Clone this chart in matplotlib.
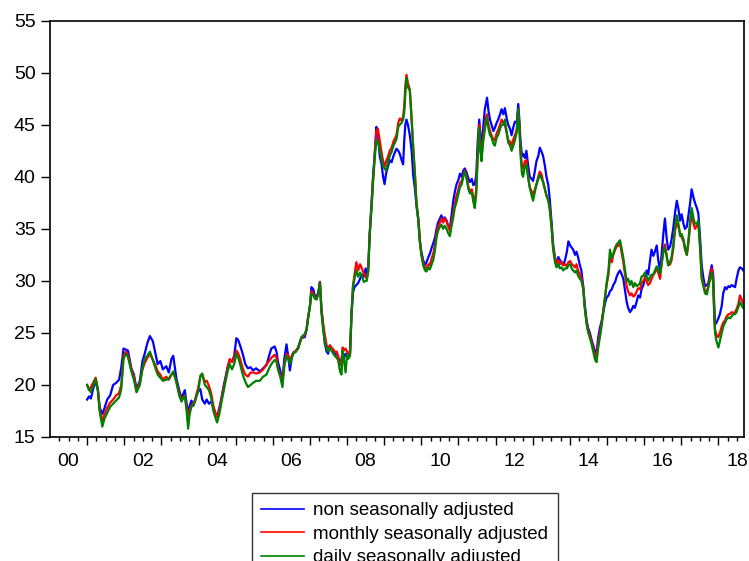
import matplotlib
matplotlib.use("Agg")
import matplotlib.pyplot as plt
import numpy as np

plt.rcParams['font.family'] = ['Liberation Sans', 'DejaVu Sans']

# decimal-year dates of the readings
dates = [
    2001.00, 2001.05, 2001.10, 2001.16, 2001.23, 2001.29, 2001.34, 2001.41, 2001.47, 2001.54,
    2001.62, 2001.70, 2001.78, 2001.86, 2001.92, 2001.98, 2002.04, 2002.10, 2002.19, 2002.26,
    2002.33, 2002.42, 2002.49, 2002.55, 2002.62, 2002.69, 2002.77, 2002.84, 2002.90, 2002.97,
    2003.04, 2003.13, 2003.20, 2003.27, 2003.32, 2003.40, 2003.48, 2003.54, 2003.63, 2003.68,
    2003.72, 2003.76, 2003.81, 2003.86, 2003.90, 2003.95, 2003.99, 2004.05, 2004.10, 2004.17,
    2004.22, 2004.28, 2004.34, 2004.40, 2004.46, 2004.50, 2004.56, 2004.61, 2004.67, 2004.73,
    2004.79, 2004.84, 2004.90, 2004.96, 2005.02, 2005.07, 2005.12, 2005.19, 2005.26, 2005.33,
    2005.40, 2005.47, 2005.55, 2005.65, 2005.74, 2005.83, 2005.90, 2005.96, 2006.05, 2006.10,
    2006.14, 2006.20, 2006.26, 2006.31, 2006.37, 2006.42, 2006.46, 2006.51, 2006.55, 2006.62,
    2006.68, 2006.77, 2006.86, 2006.91, 2006.95, 2007.00, 2007.04, 2007.09, 2007.13, 2007.18,
    2007.23, 2007.27, 2007.31, 2007.36, 2007.40, 2007.45, 2007.49, 2007.54, 2007.58, 2007.63,
    2007.67, 2007.72, 2007.76, 2007.81, 2007.85, 2007.88, 2007.91, 2007.96, 2008.00, 2008.03,
    2008.08, 2008.12, 2008.16, 2008.20, 2008.25, 2008.30, 2008.35, 2008.40, 2008.45, 2008.50,
    2008.53, 2008.57, 2008.61, 2008.66, 2008.70, 2008.75, 2008.79, 2008.83, 2008.88, 2008.93,
    2008.97, 2009.01, 2009.05, 2009.10, 2009.15, 2009.20, 2009.25, 2009.33, 2009.38, 2009.42,
    2009.47, 2009.51, 2009.54, 2009.57, 2009.60, 2009.64, 2009.69, 2009.74, 2009.78, 2009.83,
    2009.87, 2009.92, 2009.96, 2010.00, 2010.05, 2010.10, 2010.14, 2010.19, 2010.23, 2010.28,
    2010.32, 2010.37, 2010.41, 2010.45, 2010.50, 2010.54, 2010.59, 2010.63, 2010.68, 2010.72,
    2010.77, 2010.81, 2010.86, 2010.90, 2010.95, 2011.00, 2011.04, 2011.09, 2011.13, 2011.17,
    2011.22, 2011.27, 2011.31, 2011.36, 2011.40, 2011.44, 2011.48, 2011.52, 2011.56, 2011.59,
    2011.62, 2011.66, 2011.71, 2011.75, 2011.77, 2011.81, 2011.85, 2011.89, 2011.94, 2011.98,
    2012.03, 2012.07, 2012.12, 2012.16, 2012.21, 2012.25, 2012.30, 2012.34, 2012.39, 2012.43,
    2012.48, 2012.52, 2012.57, 2012.61, 2012.64, 2012.67, 2012.71, 2012.74, 2012.79, 2012.83,
    2012.88, 2012.92, 2012.97, 2013.01, 2013.06, 2013.10, 2013.15, 2013.19, 2013.24, 2013.28,
    2013.33, 2013.37, 2013.42, 2013.46, 2013.51, 2013.55, 2013.60, 2013.64, 2013.69, 2013.73,
    2013.78, 2013.82, 2013.87, 2013.92, 2013.96, 2014.01, 2014.05, 2014.09, 2014.14, 2014.18,
    2014.22, 2014.27, 2014.31, 2014.36, 2014.40, 2014.45, 2014.49, 2014.54, 2014.58, 2014.63,
    2014.68, 2014.72, 2014.76, 2014.81, 2014.86, 2014.90, 2014.95, 2014.99, 2015.04, 2015.08,
    2015.13, 2015.17, 2015.22, 2015.26, 2015.31, 2015.35, 2015.40, 2015.44, 2015.49, 2015.53,
    2015.57, 2015.62, 2015.66, 2015.71, 2015.75, 2015.80, 2015.84, 2015.89, 2015.93, 2015.98,
    2016.02, 2016.07, 2016.11, 2016.16, 2016.20, 2016.25, 2016.29, 2016.34, 2016.38, 2016.43,
    2016.47, 2016.52, 2016.56, 2016.61, 2016.65, 2016.70, 2016.74, 2016.79, 2016.83, 2016.88,
    2016.92, 2016.97, 2017.01, 2017.06, 2017.10, 2017.15, 2017.19, 2017.24, 2017.28, 2017.33,
    2017.37, 2017.42, 2017.46, 2017.51, 2017.55, 2017.60, 2017.64, 2017.69, 2017.73, 2017.78,
    2017.82, 2017.86, 2017.89, 2017.91, 2017.95, 2018.00, 2018.04, 2018.09, 2018.13, 2018.18,
    2018.22, 2018.27, 2018.31, 2018.36, 2018.40, 2018.45, 2018.49, 2018.54, 2018.58, 2018.63,
    2018.67,
]

non_sa = [
    18.6, 18.9, 18.7, 19.6, 20.4, 19.5, 17.8, 17.2, 17.8, 18.6,
    19.0, 20.0, 20.2, 20.5, 21.7, 23.5, 23.4, 23.3, 21.6, 21.0,
    19.6, 20.4, 22.3, 23.0, 24.0, 24.7, 24.2, 23.0, 22.0, 22.3,
    21.5, 21.8, 21.2, 22.5, 22.8, 20.7, 19.5, 18.7, 19.5, 18.2,
    17.0, 18.0, 18.5, 18.0, 18.4, 19.0, 19.4, 19.6, 18.6, 18.2,
    18.6, 18.2, 18.4, 17.8, 17.2, 17.0, 17.8, 18.6, 19.8, 20.8,
    21.8, 22.4, 22.2, 22.8, 24.5, 24.3, 23.8, 23.0, 22.0, 21.6,
    21.7, 21.4, 21.6, 21.3, 21.6, 21.9, 22.8, 23.5, 23.7, 23.2,
    22.2, 21.4, 20.5, 22.5, 23.9, 22.6, 21.4, 22.6, 23.1, 23.2,
    23.6, 24.5, 24.6, 25.3, 26.4, 27.6, 29.4, 29.2, 28.6, 28.4,
    29.0, 29.9, 27.2, 25.5, 24.0, 23.2, 23.0, 23.8, 23.5, 23.2,
    22.9, 23.1, 22.6, 22.3, 22.4, 23.3, 22.5, 23.0, 22.9, 22.6,
    23.0, 26.8, 28.9, 29.4, 29.6, 29.8, 30.2, 30.6, 30.4, 31.2,
    30.5, 31.3, 34.5, 37.5, 40.0, 42.5, 44.8, 44.2, 42.0, 41.2,
    40.0, 39.3, 40.3, 41.0, 41.6, 41.4, 42.0, 42.7, 42.5, 42.2,
    41.6, 41.2, 43.5, 45.0, 45.5, 45.0, 44.0, 42.5, 40.2, 38.8,
    37.2, 35.8, 33.8, 32.8, 32.0, 31.5, 31.8, 32.3, 32.6, 33.2,
    33.6, 34.2, 35.0, 35.6, 36.0, 36.3, 35.8, 36.1, 35.8, 35.3,
    35.1, 36.2, 37.7, 38.5, 39.3, 39.7, 40.3, 40.0, 40.6, 40.8,
    40.4, 39.8, 39.5, 39.8, 39.2, 39.3, 40.2, 43.5, 45.5, 44.0,
    42.6, 44.5, 46.5, 47.2, 47.6, 46.3, 45.5, 45.0, 44.4, 44.7,
    45.2, 45.5, 46.0, 46.5, 46.0, 46.6, 45.6, 45.0, 44.6, 44.0,
    44.8, 45.3, 45.2, 47.0, 45.5, 43.5, 42.0, 42.2, 41.8, 42.5,
    41.0, 40.0, 39.8, 39.6, 40.6, 41.5, 42.0, 42.8, 42.4, 42.0,
    41.0, 40.0, 39.2, 37.8, 35.5, 33.5, 32.2, 31.7, 32.3, 32.0,
    31.8, 31.5, 32.0, 32.8, 33.8, 33.4, 33.2, 33.0, 32.5, 32.8,
    32.3, 31.5, 31.0, 29.5, 27.8, 26.2, 25.5, 25.0, 24.4, 23.8,
    23.2, 23.0, 24.5, 25.5, 26.2, 27.0, 27.9, 28.4, 28.6, 29.0,
    29.2, 29.6, 29.9, 30.4, 30.8, 31.0, 30.6, 30.2, 29.0, 28.0,
    27.4, 27.0, 27.2, 27.6, 27.4, 28.0, 28.6, 28.4, 29.2, 29.6,
    30.2, 31.0, 30.6, 32.0, 33.0, 32.4, 32.8, 33.4, 32.0, 31.0,
    32.5, 34.6, 36.0, 34.0, 33.0, 33.3, 34.0, 35.2, 36.5, 37.7,
    37.0, 35.8, 36.4, 35.5, 35.0, 35.2, 36.2, 37.5, 38.8, 38.0,
    37.5, 37.0, 36.5, 34.0, 31.5, 30.2, 29.5, 29.6, 29.8, 30.8,
    31.5, 30.6, 27.5, 25.8, 26.0, 26.4, 26.8, 27.6, 28.8, 29.4,
    29.2, 29.5, 29.4, 29.6, 29.5, 29.4, 30.2, 31.0, 31.3, 31.2,
    31.0,
]

monthly_sa = [
    20.0, 19.5, 19.8, 20.2, 20.7, 19.6, 17.6, 16.5, 17.2, 17.8,
    18.3, 18.6, 19.0, 19.2, 20.0, 22.8, 23.2, 22.9, 21.5, 20.8,
    19.4, 20.2, 21.5, 22.1, 22.6, 23.0, 22.4, 21.9, 21.3, 21.0,
    20.5, 20.8, 20.5, 21.0, 21.2, 20.4, 19.2, 18.6, 19.0, 17.8,
    16.4, 17.6, 18.0, 18.3, 18.5, 19.2, 19.7, 20.8, 21.0, 20.3,
    20.4, 19.9, 19.2, 18.0, 17.2, 16.9, 17.6, 18.5, 19.6, 20.6,
    21.8, 22.5, 22.2, 22.6, 23.3, 23.0, 22.5, 21.6, 21.0, 20.8,
    21.2, 21.2, 21.1, 21.2, 21.5, 22.0, 22.3, 22.6, 22.9, 22.6,
    21.6, 21.0, 20.4, 22.0, 23.0, 22.8, 22.4, 22.8, 23.1, 23.3,
    23.5, 24.5, 24.8, 25.4, 26.5, 27.5, 29.0, 28.8, 28.4, 28.3,
    28.9, 29.9, 27.4, 25.8, 24.8, 23.8, 23.6, 23.8, 23.6, 23.4,
    23.2, 23.2, 22.8, 22.0, 21.9, 23.6, 23.3, 23.5, 23.2, 23.0,
    23.3, 26.9, 29.5, 30.6, 31.8, 31.0, 31.6, 31.2, 30.7, 30.5,
    30.2, 31.0, 34.6, 37.3, 39.8, 42.3, 44.4, 44.6, 43.5, 42.3,
    41.5, 41.0, 41.5, 41.9, 42.5, 42.8, 43.4, 44.0, 45.2, 45.6,
    45.4, 45.8, 46.8, 48.8, 49.8, 49.0, 48.4, 45.5, 43.0, 40.2,
    37.5, 36.0, 34.0, 32.6, 31.8, 31.2, 31.2, 31.6, 31.5, 32.2,
    32.6, 33.5, 34.5, 35.2, 35.6, 36.0, 35.6, 36.0, 35.7, 35.3,
    34.8, 35.6, 36.6, 37.4, 38.2, 38.8, 39.4, 39.6, 40.2, 40.6,
    40.0, 39.0, 38.6, 38.8, 38.0, 37.6, 38.8, 42.5, 45.0, 43.0,
    41.8, 43.6, 45.0, 45.8, 46.0, 45.0, 44.4, 44.0, 43.6, 43.5,
    44.2, 44.5, 45.0, 45.5, 45.2, 45.0, 44.2, 43.5, 43.4, 43.0,
    43.6, 44.0, 44.5, 46.5, 45.0, 42.8, 41.0, 40.8, 41.5, 41.6,
    40.0, 39.0, 38.6, 38.3, 38.8, 39.3, 40.0, 40.5, 40.2, 39.5,
    38.8, 38.2, 37.8, 37.0, 35.2, 33.2, 32.2, 31.6, 32.0, 31.6,
    31.8, 31.5, 31.6, 31.4, 31.8, 31.9, 31.6, 31.5, 31.3, 31.6,
    31.0, 30.6, 30.3, 29.4, 27.5, 26.0, 25.3, 24.8, 24.2, 23.5,
    22.8, 22.6, 24.0, 25.0, 26.0, 27.2, 28.5, 29.6, 30.6, 32.2,
    31.8, 32.5, 33.0, 33.3, 33.4, 33.6, 32.6, 31.8, 30.5, 29.5,
    29.0, 28.6, 28.8, 28.5, 28.6, 29.0, 29.3, 29.2, 29.8, 30.0,
    30.3, 29.9, 29.6, 29.8, 30.2, 30.6, 30.8, 31.2, 30.8, 30.2,
    31.6, 33.0, 33.5, 32.4, 31.5, 31.6, 32.0, 33.2, 34.8, 35.5,
    35.3, 34.5, 34.2, 33.8, 33.0, 32.5, 33.5, 35.3, 36.5, 35.5,
    35.0, 35.3, 35.5, 33.2, 30.5, 29.6, 29.0, 29.0, 29.5, 30.5,
    31.2, 30.2, 26.8, 25.3, 24.8, 24.6, 25.0, 25.6, 26.0, 26.2,
    26.6, 26.8, 26.8, 27.0, 26.9, 27.0, 27.3, 27.8, 28.6, 28.2,
    27.8,
]

daily_sa = [
    20.0, 19.6, 19.3, 19.9, 20.6, 19.4, 17.4, 16.0, 16.8, 17.3,
    17.9, 18.2, 18.5, 18.8, 19.6, 22.5, 23.0, 22.7, 21.3, 20.5,
    19.3, 20.0, 21.6, 22.5, 22.8, 23.2, 22.4, 21.6, 21.0, 20.7,
    20.4, 20.5, 20.6, 21.0, 21.3, 20.3, 19.0, 18.4, 19.0, 17.5,
    15.8, 17.2, 17.9, 18.1, 18.4, 19.0, 19.4, 20.9, 21.1, 20.0,
    19.8, 19.5, 18.8, 17.5, 16.8, 16.4, 17.2, 18.2, 19.3, 20.4,
    21.4, 22.0, 21.5, 22.0, 23.0, 22.6, 22.0, 21.0, 20.3, 19.8,
    20.0, 20.2, 20.4, 20.4, 20.8, 21.0, 21.6, 22.0, 22.4, 22.2,
    21.5, 20.8, 19.8, 21.8, 22.8, 22.5, 22.0, 22.6, 23.0, 23.2,
    23.5, 24.6, 24.9, 25.3, 26.4, 27.6, 28.8, 28.6, 28.3, 28.2,
    28.8, 29.8, 27.0, 25.2, 24.2, 23.5, 23.2, 23.6, 23.3, 23.0,
    22.8, 22.6, 22.4, 21.3, 21.0, 23.3, 22.6, 21.2, 22.9, 22.5,
    22.8, 26.8, 29.5, 30.2, 31.0, 30.4, 30.8, 30.5, 29.9, 30.0,
    30.0, 30.9, 34.4, 37.0, 39.5, 42.0, 43.5, 43.4, 42.6, 41.7,
    41.0, 40.8, 40.6, 41.4, 42.0, 42.4, 43.0, 43.6, 44.8, 45.0,
    45.2, 45.5, 46.2, 48.0, 49.5, 48.6, 48.3, 45.4, 42.8, 40.0,
    37.4, 35.8, 33.8, 32.5, 31.5, 31.0, 30.9, 31.3, 31.1, 31.6,
    32.0, 33.0, 34.2, 34.8, 35.2, 35.4, 35.0, 35.3, 35.0, 34.6,
    34.3, 35.2, 36.1, 37.0, 37.6, 38.4, 39.0, 39.3, 40.0, 40.5,
    39.8, 38.8, 38.4, 38.5, 37.6, 37.0, 38.4, 42.0, 44.7, 42.5,
    41.5, 43.2, 44.5, 45.4, 45.7, 44.6, 44.0, 43.8, 43.2, 43.0,
    43.8, 44.0, 44.6, 45.0, 45.0, 45.5, 44.3, 43.3, 43.0, 42.5,
    43.0, 43.5, 44.3, 46.5, 44.8, 42.2, 40.3, 40.0, 41.0, 41.2,
    39.8, 39.0, 38.2, 37.7, 38.6, 39.2, 39.8, 40.2, 39.8, 39.5,
    38.8, 38.2, 37.7, 36.8, 35.0, 33.0, 31.8, 31.3, 31.6, 31.2,
    31.3, 31.0, 31.2, 31.2, 31.5, 31.6, 31.2, 31.0, 30.8, 31.0,
    30.5, 30.2, 30.0, 29.2, 27.5, 25.9, 25.1, 24.5, 24.0, 23.2,
    22.4, 22.2, 23.5, 24.6, 25.8, 27.0, 28.5, 29.8, 31.0, 33.0,
    32.2, 32.6, 33.2, 33.5, 33.7, 33.9, 33.0, 32.2, 31.0, 30.0,
    30.2, 29.6, 30.0, 29.4, 29.8, 29.5, 29.6, 29.8, 30.4, 30.5,
    30.8, 30.4, 30.0, 30.4, 30.6, 30.6, 31.0, 31.4, 31.0, 30.7,
    31.6, 32.8, 33.2, 32.3, 31.5, 31.8, 32.3, 33.6, 35.2, 36.3,
    35.6, 34.3, 34.5, 34.0, 33.3, 32.5, 33.8, 35.8, 37.0, 36.0,
    35.5, 35.5, 35.8, 33.0, 30.2, 29.4, 28.8, 28.7, 29.4, 30.2,
    30.8, 29.8, 26.5, 25.0, 24.2, 23.6, 24.2, 25.0, 25.6, 26.0,
    26.3, 26.5, 26.4, 26.6, 26.8, 26.8, 27.0, 27.5, 28.0, 27.6,
    27.4,
]

series_labels = ["non seasonally adjusted", "monthly seasonally adjusted",
                 "daily seasonally adjusted"]
series_colors = ["#0000ff", "#ff0000", "#008000"]
year_labels = ["00", "02", "04", "06", "08", "10", "12", "14", "16", "18"]

fig = plt.figure(figsize=(7.49, 5.61), dpi=100)
ax = fig.add_axes([50 / 749, 1 - 437 / 561, 694 / 749, 416.3 / 561])

x = np.array(dates)
for vals, lab, col in zip([non_sa, monthly_sa, daily_sa], series_labels, series_colors):
    ax.plot(x, vals, color=col, lw=1.6, label=lab)

ax.set_xlim(2000.0, 2018.69)
ax.set_ylim(15, 55)
ax.set_yticks(np.arange(15, 56, 5))
ax.tick_params(axis='y', direction='out', length=6.3, width=1, pad=4, labelsize=14)

ax.set_xticks(np.arange(2001, 2019, 1))
ax.set_xticks([y + q for y in range(2000, 2019) for q in (0.25, 0.5, 0.75)
               if y + q < 2018.69], minor=True)
ax.tick_params(axis='x', which='major', direction='out', length=6, width=1, labelbottom=False)
ax.tick_params(axis='x', which='minor', direction='out', length=3, width=1)
for i, lab in enumerate(year_labels):
    ax.text(2000.5 + 2 * i, -24 / 416.3, lab, transform=ax.get_xaxis_transform(),
            ha='center', va='center', fontsize=14)

for s in ax.spines.values():
    s.set_linewidth(1.2)

leg = fig.legend(loc='upper left', bbox_to_anchor=(251.7 / 749, 1 - 492.7 / 561),
                 frameon=True, fancybox=False, edgecolor='black', fontsize=13.5,
                 handlelength=2.3, handletextpad=0.48, borderpad=0.5, labelspacing=0.34,
                 borderaxespad=0)
leg.get_frame().set_linewidth(1.0)
for ln in leg.get_lines():
    ln.set_linewidth(1.2)

fig.savefig("out.png", dpi=100)
